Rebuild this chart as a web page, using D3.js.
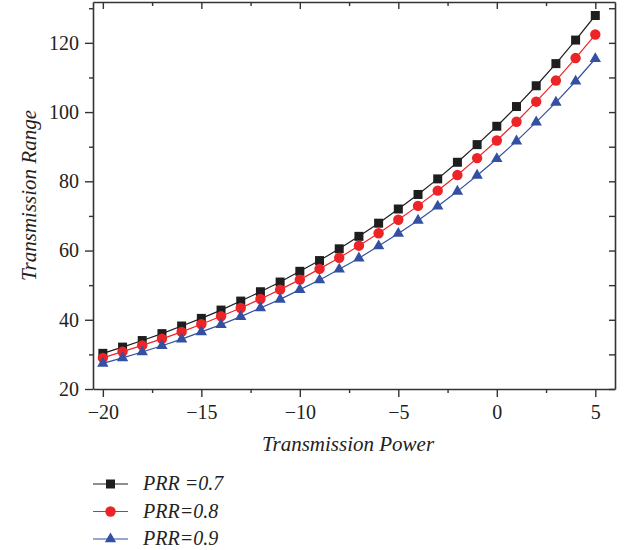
<html>
<head>
<meta charset="utf-8">
<script src="https://d3js.org/d3.v7.min.js"></script>
<style>
  body { margin: 0; background: #fff; }
  svg, svg text { font-family: "Liberation Serif", "DejaVu Serif", serif; }
</style>
</head>
<body>
<svg id="chart"></svg>
<script>
// data
const power = [-20, -19, -18, -17, -16, -15, -14, -13, -12, -11, -10, -9, -8, -7, -6, -5, -4, -3, -2, -1, 0, 1, 2, 3, 4, 5];
const prr07 = [30.3, 32.1, 34.0, 36.0, 38.2, 40.4, 42.8, 45.4, 48.1, 50.9, 54.0, 57.1, 60.5, 64.1, 67.9, 72.0, 76.2, 80.7, 85.5, 90.6, 95.9, 101.6, 107.6, 114.0, 120.8, 127.9];
const prr08 = [29.0, 30.8, 32.6, 34.5, 36.5, 38.7, 41.0, 43.4, 46.0, 48.7, 51.6, 54.7, 57.9, 61.4, 65.0, 68.9, 72.9, 77.3, 81.8, 86.7, 91.8, 97.2, 103.0, 109.1, 115.6, 122.4];
const prr09 = [27.4, 29.0, 30.7, 32.5, 34.4, 36.5, 38.6, 40.9, 43.4, 45.9, 48.7, 51.5, 54.6, 57.8, 61.3, 64.9, 68.7, 72.8, 77.1, 81.7, 86.5, 91.6, 97.1, 102.8, 108.9, 115.4];
const seriesNames = ["PRR =0.7", "PRR=0.8", "PRR=0.9"];
const xTicks = [-20, -15, -10, -5, 0, 5];
const yTicks = [20, 40, 60, 80, 100, 120];

const W = 632, H = 550;
const m = { left: 93, right: 17, top: 2, bottom: 161 };
const svg = d3.select("#chart").attr("width", W).attr("height", H);

const x = d3.scaleLinear().domain([-20.5, 6]).range([m.left, W - m.right]);
const y = d3.scaleLinear().domain([20, 131.8]).range([H - m.bottom, m.top]);

const series = [
  { name: seriesNames[0], values: prr07, color: "#1e1e1e", shape: d3.symbolSquare, size: 81 },
  { name: seriesNames[1], values: prr08, color: "#ec2327", shape: d3.symbolCircle, size: 85 },
  { name: seriesNames[2], values: prr09, color: "#3350a2", shape: d3.symbolTriangle, size: 56 }
];

const axisColor = "#333";
const fmt = d3.format("");

// bottom axis
svg.append("g").attr("transform", `translate(0,${H - m.bottom})`)
  .call(d3.axisBottom(x).tickValues(xTicks).tickSize(8).tickPadding(8).tickSizeOuter(0).tickFormat(fmt));
svg.append("g").attr("transform", `translate(0,${H - m.bottom})`)
  .call(d3.axisBottom(x).tickValues(d3.range(-17.5, 6, 5)).tickSize(4).tickFormat("").tickSizeOuter(0))
  .select(".domain").remove();

// left axis
svg.append("g").attr("transform", `translate(${m.left},0)`)
  .call(d3.axisLeft(y).tickValues(yTicks).tickSize(8).tickPadding(6).tickSizeOuter(0));
svg.append("g").attr("transform", `translate(${m.left},0)`)
  .call(d3.axisLeft(y).tickValues(d3.range(30, 131, 20)).tickSize(4).tickFormat("").tickSizeOuter(0))
  .select(".domain").remove();

// top axis, inward ticks
svg.append("g").attr("transform", `translate(0,${m.top})`)
  .call(d3.axisTop(x).tickValues(xTicks).tickSize(-7).tickFormat("").tickSizeOuter(0));
svg.append("g").attr("transform", `translate(0,${m.top})`)
  .call(d3.axisTop(x).tickValues(d3.range(-17.5, 6, 5)).tickSize(-4).tickFormat("").tickSizeOuter(0))
  .select(".domain").remove();

// right axis, inward ticks
svg.append("g").attr("transform", `translate(${W - m.right},0)`)
  .call(d3.axisRight(y).tickValues(yTicks).tickSize(-6).tickFormat("").tickSizeOuter(0));
svg.append("g").attr("transform", `translate(${W - m.right},0)`)
  .call(d3.axisRight(y).tickValues(d3.range(30, 131, 20)).tickSize(-6).tickFormat("").tickSizeOuter(0))
  .select(".domain").remove();

svg.selectAll("g").attr("font-family", "Liberation Serif");
svg.selectAll(".domain").attr("stroke", axisColor).attr("stroke-width", 1.6);
svg.selectAll(".tick line").attr("stroke", axisColor).attr("stroke-width", 1.4);
svg.selectAll(".tick text").attr("fill", "#222").style("font-size", "20px");

// axis titles
svg.append("text")
  .attr("x", 348)
  .attr("y", 451)
  .attr("text-anchor", "middle")
  .style("font-style", "italic").style("font-size", "21px").attr("fill", "#222")
  .text("Transmission Power");

svg.append("text")
  .attr("transform", `translate(36,${(y.range()[0] + y.range()[1]) / 2}) rotate(-90)`)
  .attr("text-anchor", "middle")
  .style("font-style", "italic").style("font-size", "21px").attr("fill", "#222")
  .text("Transmission Range");

// lines + markers
const line = d3.line().x((d, i) => x(power[i])).y(d => y(d));
series.forEach(s => {
  svg.append("path").datum(s.values)
    .attr("d", line).attr("fill", "none")
    .attr("stroke", s.color).attr("stroke-width", 1.2);
  svg.append("g").selectAll("path").data(s.values).join("path")
    .attr("transform", (d, i) => `translate(${x(power[i])},${y(d)})`)
    .attr("d", d3.symbol().type(s.shape).size(s.size))
    .attr("fill", s.color);
});

// legend
const legend = svg.append("g");
series.forEach((s, i) => {
  const ly = 484 + i * 27.5;
  legend.append("line").attr("x1", 93).attr("x2", 128).attr("y1", ly).attr("y2", ly)
    .attr("stroke", s.color).attr("stroke-width", 1.2);
  legend.append("path").attr("transform", `translate(110.5,${ly})`)
    .attr("d", d3.symbol().type(s.shape).size(s.size)).attr("fill", s.color);
  legend.append("text").attr("x", 143).attr("y", ly + 6)
    .style("font-style", "italic").style("font-size", "20px").attr("fill", "#222")
    .text(s.name);
});
</script>
</body>
</html>
